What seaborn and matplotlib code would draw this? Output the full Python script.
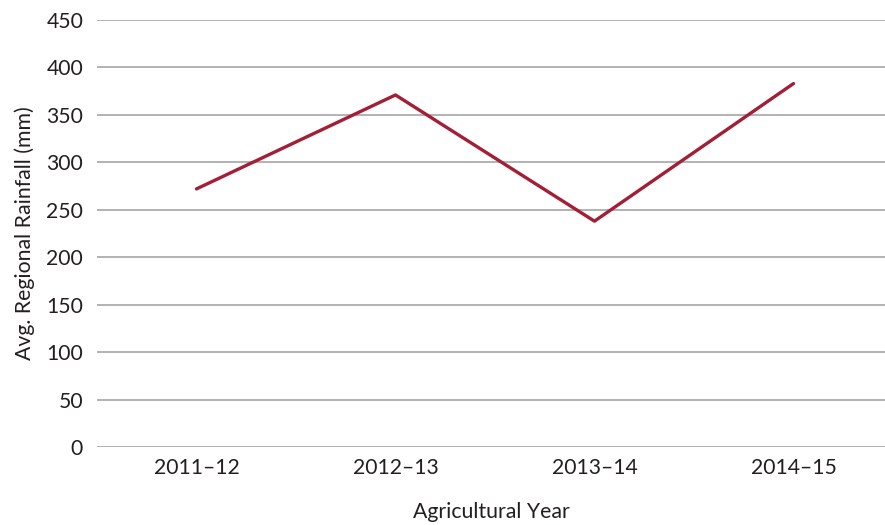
import pandas as pd
import matplotlib.pyplot as plt
import seaborn as sns

# Agricultural years and average regional rainfall (mm)
years = ['2011–12', '2012–13', '2013–14', '2014–15']
rainfall = [272, 371, 238, 383]
yticks = [0, 50, 100, 150, 200, 250, 300, 350, 400, 450]

df = pd.DataFrame({'Agricultural Year': years, 'Rainfall': rainfall})

sns.set_theme(style="white")
plt.rcParams['font.family'] = ['Lato', 'DejaVu Sans']
text_color = '#231f20'

fig = plt.figure(figsize=(8.85, 5.25), dpi=100)
ax = fig.add_axes([97 / 885, 78 / 525, 788 / 885, 427 / 525])

for y in yticks:
    ax.axhline(y, color='#a6a6a6', linewidth=1.2, zorder=0)

sns.lineplot(data=df, x='Agricultural Year', y='Rainfall', ax=ax,
             color='#a21f36', linewidth=2.4, sort=False)

ax.set_ylim(0, 450)
ax.set_xlim(-0.5, 3.46)
ax.set_yticks(yticks)
ax.set_yticklabels([str(v) for v in yticks])
ax.tick_params(axis='both', length=0, labelsize=15.2, colors=text_color)
ax.tick_params(axis='y', pad=10)
ax.tick_params(axis='x', pad=8)
ax.set_xlabel('Agricultural Year', fontsize=15.3, color=text_color, labelpad=17)
ax.set_ylabel('Avg. Regional Rainfall (mm)', fontsize=15.3, color=text_color, labelpad=8)
sns.despine(left=True, bottom=True, right=True, top=True)
ax.grid(False)

fig.savefig('out.png', dpi=100)
